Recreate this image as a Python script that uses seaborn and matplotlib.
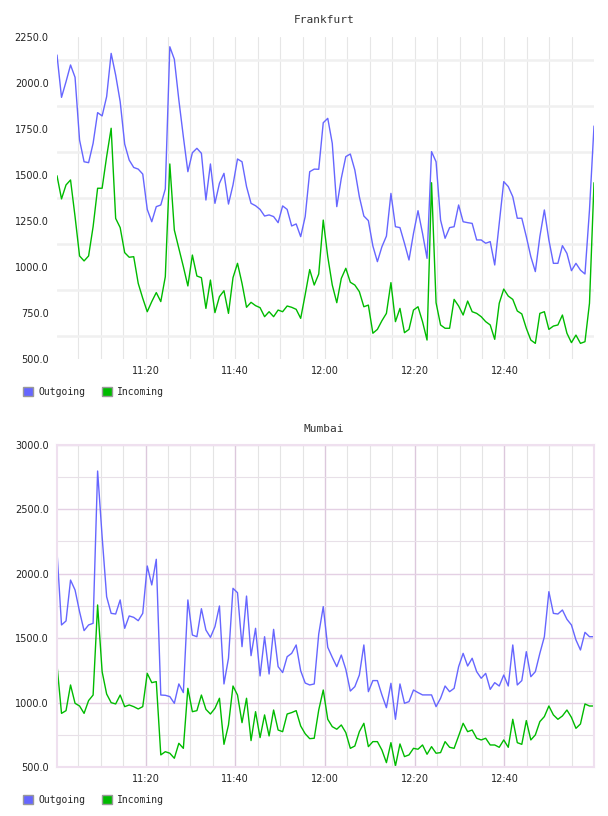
import numpy as np
import pandas as pd
import matplotlib
matplotlib.use('Agg')
import matplotlib.pyplot as plt
import matplotlib.dates as mdates
from matplotlib.patches import Patch
import seaborn as sns

# muestras de 1 minuto aprox. entre 11:00 y 13:00
tiempos = pd.date_range('2024-01-01 11:00:16', periods=120, freq='60350ms')

fra_out = [2152, 1922, 2007, 2098, 2031, 1690, 1572, 1567, 1672, 1839,
           1821, 1926, 2161, 2043, 1899, 1668, 1581, 1541, 1532, 1505,
           1313, 1246, 1328, 1337, 1424, 2197, 2129, 1908, 1708, 1518,
           1621, 1645, 1618, 1364, 1560, 1346, 1455, 1509, 1342, 1446,
           1587, 1572, 1437, 1346, 1333, 1313, 1277, 1283, 1274, 1241,
           1332, 1313, 1223, 1234, 1165, 1274, 1518, 1532, 1531, 1784,
           1808, 1672, 1328, 1482, 1600, 1614, 1527, 1382, 1277, 1252,
           1114, 1029, 1110, 1168, 1400, 1219, 1214, 1129, 1038, 1183,
           1306, 1183, 1047, 1627, 1572, 1255, 1156, 1214, 1219, 1337,
           1246, 1241, 1237, 1147, 1147, 1129, 1138, 1011, 1237, 1464,
           1437, 1382, 1265, 1265, 1165, 1056, 975, 1165, 1310, 1147,
           1020, 1020, 1116, 1074, 980, 1020, 983, 962, 1310, 1766]

fra_in = [1496, 1370, 1446, 1473, 1274, 1060, 1033, 1060, 1219, 1428,
          1428, 1600, 1754, 1264, 1214, 1078, 1053, 1056, 911, 830,
          757, 812, 861, 812, 947, 1560, 1201, 1101, 1002, 897,
          1065, 951, 942, 775, 929, 752, 839, 871, 748, 942,
          1020, 911, 781, 808, 790, 779, 730, 757, 730, 766,
          757, 788, 781, 770, 721, 850, 986, 902, 962, 1255,
          1056, 902, 806, 938, 993, 917, 902, 866, 784, 793,
          640, 661, 708, 748, 915, 703, 775, 643, 661, 766,
          784, 703, 603, 1458, 806, 685, 667, 667, 824, 788,
          739, 815, 757, 748, 730, 703, 685, 607, 803, 880,
          842, 824, 761, 745, 667, 603, 585, 748, 757, 661,
          679, 685, 739, 640, 589, 630, 585, 594, 803, 1458]

mum_out = [2171, 1603, 1634, 1951, 1874, 1706, 1559, 1603, 1616, 2796,
           2287, 1822, 1693, 1688, 1797, 1577, 1673, 1662, 1636, 1693,
           2060, 1913, 2112, 1060, 1058, 1048, 996, 1146, 1079, 1797,
           1525, 1512, 1729, 1564, 1507, 1590, 1750, 1146, 1345, 1887,
           1853, 1435, 1827, 1365, 1577, 1208, 1512, 1223, 1569, 1280,
           1234, 1357, 1383, 1448, 1248, 1153, 1138, 1146, 1533, 1745,
           1430, 1352, 1280, 1370, 1259, 1091, 1125, 1215, 1448, 1086,
           1172, 1172, 1061, 962, 1151, 872, 1146, 996, 1009, 1099,
           1079, 1061, 1061, 1061, 970, 1035, 1130, 1086, 1112, 1280,
           1383, 1285, 1345, 1241, 1190, 1228, 1104, 1156, 1130, 1215,
           1130, 1448, 1138, 1172, 1396, 1202, 1241, 1383, 1512, 1861,
           1693, 1688, 1719, 1647, 1603, 1487, 1409, 1546, 1512, 1512]

mum_in = [1293, 918, 939, 1138, 996, 975, 918, 1017, 1060, 1758,
          1241, 1068, 1001, 991, 1060, 970, 983, 970, 952, 970,
          1228, 1156, 1164, 596, 621, 609, 570, 686, 647, 1112,
          931, 939, 1060, 949, 913, 957, 1035, 678, 828, 1130,
          1060, 846, 1035, 707, 931, 730, 906, 743, 944, 789,
          776, 913, 924, 939, 820, 760, 722, 725, 944, 1099,
          872, 815, 795, 828, 769, 647, 665, 776, 841, 660,
          699, 699, 634, 536, 691, 510, 681, 583, 596, 647,
          640, 673, 601, 660, 609, 614, 699, 655, 647, 743,
          841, 776, 789, 725, 712, 725, 673, 673, 655, 712,
          655, 872, 691, 678, 862, 712, 751, 854, 893, 975,
          906, 872, 898, 944, 887, 802, 836, 991, 975, 975]

series = ['Outgoing', 'Incoming']
colores = {'Outgoing': '#6666ff', 'Incoming': '#00bb00'}

sns.set_style('white')
plt.rcParams['font.family'] = ['DejaVu Sans']


def tabla(out, inc):
    df = pd.DataFrame({'Fecha': tiempos, 'Outgoing': out, 'Incoming': inc})
    return df.melt(id_vars='Fecha', var_name='Serie', value_name='Trafico')


fig = plt.figure(figsize=(6.08, 8.16), dpi=100)
ax1 = fig.add_axes([57/608, 1-359/816, 537/608, 322/816])
ax2 = fig.add_axes([57/608, 1-767.3/816, 537/608, 322.6/816])

paneles = [
    (ax1, tabla(fra_out, fra_in), 'Frankfurt', (500, 2250), 250, 20, 392),
    (ax2, tabla(mum_out, mum_in), 'Mumbai', (500, 3000), 500, 429, 800),
]

for ax, df, titulo, ylim, paso, y_tit, y_ley in paneles:
    sns.lineplot(data=df, x='Fecha', y='Trafico', hue='Serie', hue_order=series,
                 palette=colores, linewidth=1.0, ax=ax, legend=False)
    ax.set_xlim(tiempos[0], tiempos[-1])
    ax.set_ylim(*ylim)
    ax.set_yticks(np.arange(ylim[0], ylim[1] + 1, paso))
    ax.yaxis.set_major_formatter(matplotlib.ticker.FormatStrFormatter('%.1f'))
    ax.xaxis.set_major_locator(mdates.MinuteLocator(byminute=[0, 20, 40]))
    ax.xaxis.set_minor_locator(mdates.MinuteLocator(byminute=range(0, 60, 5)))
    ax.xaxis.set_major_formatter(mdates.DateFormatter('%H:%M'))
    ax.set_xlabel('')
    ax.set_ylabel('')
    ax.tick_params(axis='both', which='both', length=0, labelsize=7, colors='#222222')
    ax.tick_params(axis='y', pad=6)
    ax.tick_params(axis='x', pad=5)
    ax.set_axisbelow(True)
    fig.text(324/608, 1-y_tit/816, titulo, ha='center', va='center',
             family='DejaVu Sans Mono', fontsize=8, color='#333333')
    handles = [Patch(facecolor=colores[s], edgecolor='#999999', linewidth=1) for s in series]
    ax.legend(handles, series, loc='center left', bbox_to_anchor=(23/608, 1-y_ley/816),
              bbox_transform=fig.transFigure, ncol=2, frameon=False,
              handlelength=1.05, handleheight=1.05, handletextpad=0.5,
              columnspacing=1.7, borderpad=0, borderaxespad=0,
              prop={'family': 'DejaVu Sans Mono', 'size': 7})

# Frankfurt: sin marco, rejilla gris desplazada media division
sns.despine(ax=ax1, left=True, bottom=True)
ax1.set_yticks(np.arange(625, 2250, 250), minor=True)
ax1.grid(axis='x', which='both', color='#e6e6e6', linewidth=0.8)
ax1.grid(axis='y', which='minor', color='#f0f0f0', linewidth=1.8)
ax1.grid(axis='y', which='major', visible=False)

# Mumbai: marco y rejilla en tono lila
for sp in ax2.spines.values():
    sp.set_visible(True)
    sp.set_color('#efe0ef')
    sp.set_linewidth(1.5)
ax2.set_yticks(np.arange(750, 3000, 500), minor=True)
ax2.grid(axis='x', which='minor', color='#e4e4e4', linewidth=0.8)
ax2.grid(axis='x', which='major', color='#dcc8dc', linewidth=1.0)
ax2.grid(axis='y', which='minor', color='#e8e0e8', linewidth=0.8)
ax2.grid(axis='y', which='major', color='#e4d0e4', linewidth=1.0)

fig.savefig('out.png', dpi=100)
